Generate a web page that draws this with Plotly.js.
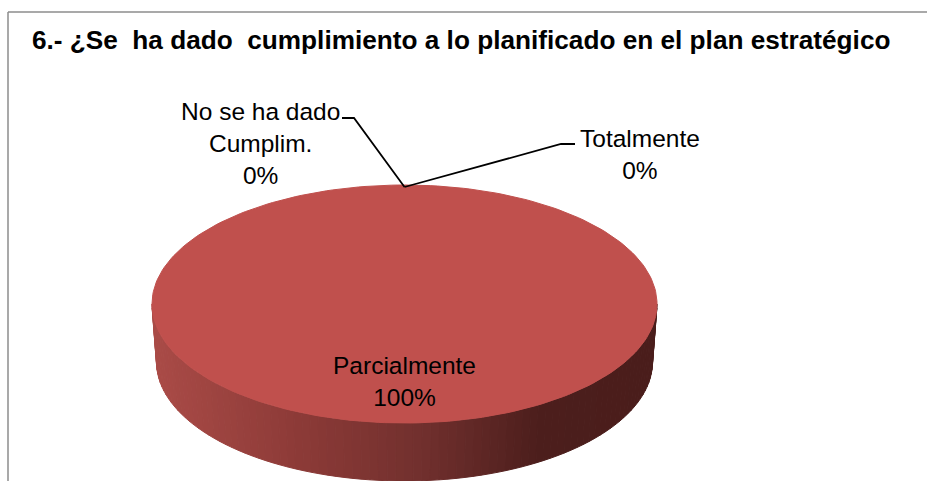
<!DOCTYPE html>
<html><head><meta charset="utf-8">
<script src="https://cdn.plot.ly/plotly-3.0.1.min.js"></script>
<style>html,body{margin:0;padding:0;background:#fff;overflow:hidden}#c{width:927px;height:481px}</style>
</head><body><div id="c"></div>
<script>
const titleText = "6.- ¿Se  ha dado  cumplimiento a lo planificado en el plan estratégico";
const categories = ["Totalmente", "Parcialmente", "No se ha dado<br>Cumplim."];
const values = [0, 100, 0];
const sliceColors = ["#4f81bd", "#c0504d", "#9bbb59"];
const labelPos = [[640, 138], [404, 365], [260, 111]];
const elbows = [[[575, 144], [561, 144]], null, [[342, 118], [354, 118]]];

const FONT = '"Liberation Sans Narrow","Liberation Sans",Arial,sans-serif';
const cx = 404.5, cy = 304, rx = 252.5, ry = 119;
const bx = 248, by = 362;
const total = values.reduce((a, b) => a + b, 0);
const pt = (a, ex, ey, yc) => [cx + ex * Math.cos(a), yc + ey * Math.sin(a)];
const traces = [];

// side wall: vertical strips along the front half of the cylinder
const stops = [[152, [170, 75, 71]], [300, [140, 58, 55]], [420, [114, 48, 46]], [540, [76, 30, 28]], [660, [74, 29, 27]]];
function wallColor(x) {
  for (let i = 1; i < stops.length; i++) if (x <= stops[i][0]) {
    const t = (x - stops[i - 1][0]) / (stops[i][0] - stops[i - 1][0]);
    const c = stops[i - 1][1].map((v, k) => Math.round(v + (stops[i][1][k] - v) * t));
    return `rgb(${c})`;
  }
  return `rgb(${stops[stops.length - 1][1]})`;
}
const strips = 90;
for (let i = 0; i < strips; i++) {
  const a0 = Math.PI - i * Math.PI / strips, a1 = Math.PI - (i + 1) * Math.PI / strips;
  const p = [pt(a0, rx, ry, cy), pt(a1, rx, ry, cy), pt(a1, bx, ry, by), pt(a0, bx, ry, by)];
  const col = wallColor((p[0][0] + p[1][0]) / 2);
  traces.push({type: "scatter", mode: "lines", x: p.map(q => q[0]).concat(p[0][0]), y: p.map(q => q[1]).concat(p[0][1]),
    fill: "toself", fillcolor: col, line: {color: col, width: 1}, hoverinfo: "skip", showlegend: false});
}

// top face: slices from the values, clockwise from 12 o'clock
let cum = 0;
const anchors = [];
values.forEach((v, i) => {
  const s = -Math.PI / 2 + cum / total * 2 * Math.PI;
  const e = s + v / total * 2 * Math.PI;
  anchors.push(pt(s + (e - s) / 2 * (v === total ? 0 : 1), rx, ry, cy));
  cum += v;
  if (v > 0) {
    const xs = [], ys = [];
    for (let k = 0; k <= 240; k++) {
      const q = pt(s + (e - s) * k / 240, rx, ry, cy);
      xs.push(q[0]); ys.push(q[1]);
    }
    traces.push({type: "scatter", mode: "lines", x: xs, y: ys, fill: "toself", fillcolor: sliceColors[i],
      line: {color: sliceColors[i], width: 1}, name: categories[i], hoverinfo: "skip", showlegend: false});
  }
});

// leader lines for the outside labels
elbows.forEach((el, i) => {
  if (!el) return;
  traces.push({type: "scatter", mode: "lines", x: [el[0][0], el[1][0], anchors[i][0]], y: [el[0][1], el[1][1], anchors[i][1] + 2],
    line: {color: "#000", width: 1.8}, hoverinfo: "skip", showlegend: false});
});

const annotations = categories.map((c, i) => ({
  xref: "x", yref: "y", x: labelPos[i][0], y: labelPos[i][1] - 15, yanchor: "top", xanchor: "center", align: "center",
  text: `${c}<br>${Math.round(values[i] / total * 100)}%`, showarrow: false,
  font: {family: FONT, size: 24.5, color: "#000"}
}));

Plotly.newPlot("c", traces, {
  width: 927, height: 481, margin: {l: 0, r: 0, t: 0, b: 0}, paper_bgcolor: "#fff", plot_bgcolor: "#fff", showlegend: false,
  hovermode: false,
  title: {text: `<b>${titleText}</b>`, x: 0.4975, xanchor: "center", y: 0.917, yanchor: "middle", font: {family: FONT, size: 26.2, color: "#000"}},
  xaxis: {range: [0, 927], visible: false, fixedrange: true},
  yaxis: {range: [481, 0], visible: false, fixedrange: true},
  shapes: [
    {type: "line", xref: "x", yref: "y", x0: 8, x1: 8, y0: 12, y1: 490, line: {color: "#8c8c8c", width: 1.5}},
    {type: "line", xref: "x", yref: "y", x0: 8, x1: 940, y0: 12, y1: 12, line: {color: "#8c8c8c", width: 1.5}}
  ],
  annotations
}, {displayModeBar: false, staticPlot: true});
</script></body></html>
